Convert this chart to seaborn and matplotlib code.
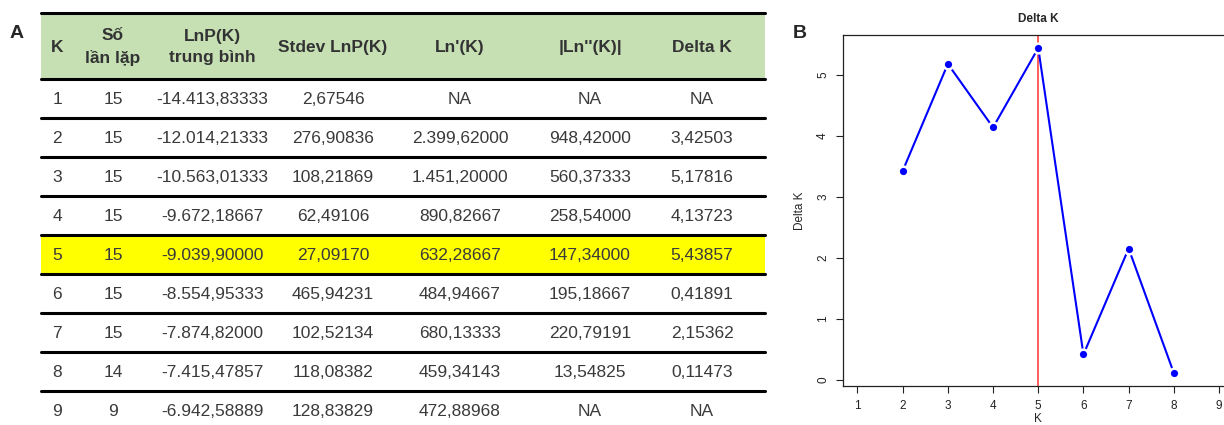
import numpy as np
import pandas as pd
import matplotlib
matplotlib.use("Agg")
import matplotlib.pyplot as plt
import seaborn as sns

sns.set_style("white")
plt.rcParams['font.family'] = ['Liberation Sans', 'DejaVu Sans']

# table data
headers = ["K", "Số\nlần lặp", "LnP(K)\ntrung bình", "Stdev LnP(K)", "Ln'(K)", "|Ln''(K)|", "Delta K"]
k_vals = ["1", "2", "3", "4", "5", "6", "7", "8", "9"]
reps = ["15", "15", "15", "15", "15", "15", "15", "14", "9"]
mean_lnp = ["-14.413,83333", "-12.014,21333", "-10.563,01333", "-9.672,18667", "-9.039,90000",
            "-8.554,95333", "-7.874,82000", "-7.415,47857", "-6.942,58889"]
stdev_lnp = ["2,67546", "276,90836", "108,21869", "62,49106", "27,09170",
             "465,94231", "102,52134", "118,08382", "128,83829"]
ln1 = ["NA", "2.399,62000", "1.451,20000", "890,82667", "632,28667",
       "484,94667", "680,13333", "459,34143", "472,88968"]
ln2 = ["NA", "948,42000", "560,37333", "258,54000", "147,34000",
       "195,18667", "220,79191", "13,54825", "NA"]
delta_txt = ["NA", "3,42503", "5,17816", "4,13723", "5,43857",
             "0,41891", "2,15362", "0,11473", "NA"]
highlight_row = 4  # K = 5

# Delta K series for panel B
delta_k = [2, 3, 4, 5, 6, 7, 8]
delta_v = [3.42503, 5.17816, 4.13723, 5.43857, 0.41891, 2.15362, 0.11473]
best_k = 5

W, H = 1224, 425
fig = plt.figure(figsize=(W / 100, H / 100), dpi=100)

# ---- panel A : table drawn in pixel coordinates ----
tab = fig.add_axes([0, 0, 1, 1])
tab.set_xlim(0, W)
tab.set_ylim(H, 0)
tab.axis("off")

left, right = 41, 765
top, head_bot, row_h = 13, 79, 39
col_x = [57, 113, 212, 333, 460, 590, 702]
text_col = "#333333"

tab.fill_between([left, right], top, head_bot, color="#c6e0b4", lw=0)
yl0 = head_bot + highlight_row * row_h
tab.fill_between([left, right], yl0, yl0 + row_h, color="#ffff00", lw=0)

for x, h in zip(col_x, headers):
    tab.text(x, (top + head_bot) / 2 + 1, h, ha="center", va="center", fontsize=12.5,
             fontweight="bold", color=text_col, linespacing=1.55)

columns = [k_vals, reps, mean_lnp, stdev_lnp, ln1, ln2, delta_txt]
for i in range(len(k_vals)):
    yc = head_bot + (i + 0.5) * row_h + 1
    for x, col in zip(col_x, columns):
        tab.text(x, yc, col[i], ha="center", va="center", fontsize=12.5, color="#3a3a3a")

for i in range(len(k_vals)):
    tab.plot([left, right], [head_bot + i * row_h] * 2, color="black", lw=2.2)
tab.plot([left, right], [top, top], color="black", lw=2.2)

tab.text(10, 33, "A", fontsize=14, fontweight="bold", va="center")
tab.text(793, 33, "B", fontsize=14, fontweight="bold", va="center")

# ---- panel B : Delta K plot ----
ax = fig.add_axes([843 / W, 39 / H, (1233.5 - 843) / W, 351 / H])
df = pd.DataFrame({"K": delta_k, "Delta K": delta_v})
ax.axvline(best_k, color="#ff3030", lw=1.1, zorder=1)
sns.lineplot(data=df, x="K", y="Delta K", ax=ax, color="blue", lw=1.5, marker="o",
             markersize=7, markeredgecolor="white", markeredgewidth=1.8, zorder=3)
ax.set_xlim(0.68, 9.32)
ax.set_ylim(-0.098, 5.652)
ax.set_xticks(range(1, 10))
ax.set_yticks(range(0, 6))
ax.set_title("Delta K", fontsize=8.5, fontweight="bold", pad=9)
ax.set_xlabel("K", fontsize=8.5, labelpad=1)
ax.set_ylabel("Delta K", fontsize=8.5, labelpad=8)
ax.tick_params(axis="both", labelsize=8.5, length=5, width=0.8, color="#222222",
               bottom=True, left=True, labelcolor="#222222")
ax.tick_params(axis="x", pad=5)
ax.tick_params(axis="y", labelrotation=90, pad=5)
for lab in ax.get_yticklabels():
    lab.set_va("center")
for s in ax.spines.values():
    s.set_color("#222222")
    s.set_linewidth(0.9)

fig.savefig("out.png", dpi=100)
